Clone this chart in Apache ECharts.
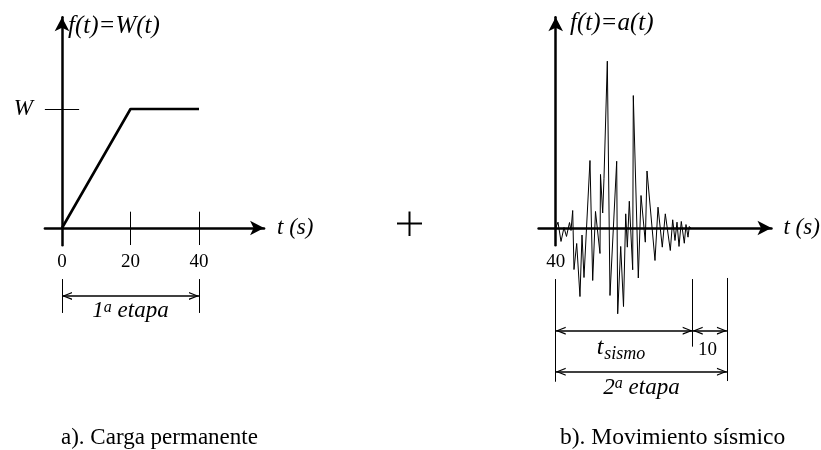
<!DOCTYPE html>
<html><head><meta charset="utf-8">
<script src="https://cdn.jsdelivr.net/npm/echarts@6/dist/echarts.min.js"></script>
<style>html,body{margin:0;padding:0;background:#fff}#c{width:821px;height:450px}</style>
</head><body><div id="c"></div>
<script>
// ---- data ----
const loadT = [0, 20, 40];
const loadW = [0, 1, 1];
const quakeT = [40.0, 40.67, 41.55, 42.42, 43.15, 44.03, 44.47, 44.96, 45.34, 46.13,
  47.09, 47.68, 48.26, 50.01, 50.80, 51.62, 52.93, 53.08, 53.72, 54.10,
  55.07, 55.85, 57.81, 58.10, 58.98, 59.80, 60.44, 60.91, 61.49, 62.48,
  62.66, 64.12, 64.91, 66.16, 66.66, 68.99, 69.87, 71.12, 72.00, 73.46,
  74.16, 74.83, 75.42, 76.00, 76.67, 77.55, 78.04, 78.63, 79.01, 79.42];
const quakeA = [0.00, 0.049, -0.113, 0.004, -0.071, 0.046, -0.021, 0.147, -0.349, -0.130,
  -0.576, -0.059, -0.416, 0.567, -0.441, 0.139, -0.214, 0.450, 0.126, 0.418,
  1.402, -0.567, 0.561, -0.721, -0.155, -0.660, 0.119, -0.161, 0.225, -0.351,
  1.113, -0.420, 0.273, -0.119, 0.479, -0.273, 0.175, -0.161, 0.119, -0.189,
  0.069, -0.105, 0.049, -0.155, 0.055, -0.128, 0.029, -0.077, 0.013, 0.0];
const loadTicks = [0, 20, 40];
const quakeTicks = [40];
const wLevel = [1];
const stage1 = [0, 40];
const tSismo = [40, 80];
const tExtra = [80, 90];
const stage2 = [40, 90];

// ---- layout (pixels per unit) ----
const PX = 3.425, PY = 119;
const XL = [-5, 59], XR = [35, 103];
const YMAIN = [-0.145, 1.77], YOVER = [-1.5, 1.77];
const LEFT0 = 62 - (0 - XL[0]) * PX;
const LEFT1 = 555.7 - (40 - XR[0]) * PX;
const TOP = 228 - YMAIN[1] * PY;
const SERIF = "'Liberation Serif','Times New Roman',serif";
const BLACK = '#000';

function grid(left, xr, yr) {
  return {left: left, top: TOP, width: (xr[1] - xr[0]) * PX, height: (yr[1] - yr[0]) * PY,
          outerBoundsMode: 'none', containLabel: false};
}
const zip = (a, b) => a.map((v, i) => [v, b[i]]);
const axLine = {show: true, symbol: ['none', 'arrow'], symbolSize: [11, 14], lineStyle: {color: BLACK, width: 2.5}};
const nameStyle = {fontFamily: SERIF, fontStyle: 'italic', fontSize: 23, color: BLACK, align: 'left', verticalAlign: 'middle'};
const digitStyle = {fontFamily: SERIF, fontSize: 19, color: BLACK};
const chev = 'path://M6,0 L12,14 L10,14 L6,4 L2,14 L0,14 Z';
const seg = (x0, y0, x1, y1) => [{coord: [x0, y0]}, {coord: [x1, y1]}];
const thin = {color: BLACK, width: 1, type: 'solid'};
const hidden = {show: false};
const richStyles = {
  n: {fontFamily: SERIF, fontStyle: 'italic', fontSize: 23, color: BLACK, textBorderWidth: 0},
  s: {fontFamily: SERIF, fontStyle: 'italic', fontSize: 16, color: BLACK, verticalAlign: 'top', textBorderWidth: 0},
  t: {fontFamily: SERIF, fontStyle: 'italic', fontSize: 24, color: BLACK, verticalAlign: 'top', textBorderWidth: 0},
  sub: {fontFamily: SERIF, fontStyle: 'italic', fontSize: 18, color: BLACK, verticalAlign: 'top', padding: [10, 0, 0, 1], textBorderWidth: 0},
  d: {fontFamily: SERIF, fontSize: 19, color: BLACK, textBorderWidth: 0}
};
const annoLabel = {show: true, position: 'inside', color: BLACK, textBorderWidth: 0, opacity: 1, rich: richStyles};

const option = {
  animation: false,
  backgroundColor: '#fff',
  grid: [grid(LEFT0, XL, YMAIN), grid(LEFT1, XR, YMAIN), grid(LEFT0, XL, YOVER), grid(LEFT1, XR, YOVER)],
  xAxis: [
    {type: 'value', gridIndex: 0, min: XL[0], max: XL[1], axisLine: Object.assign({onZero: true}, axLine),
     axisTick: hidden, splitLine: hidden,
     axisLabel: Object.assign({customValues: loadTicks, margin: 7}, digitStyle),
     name: 't (s)', nameLocation: 'end', nameGap: 13, nameTextStyle: nameStyle},
    {type: 'value', gridIndex: 1, min: XR[0], max: XR[1], axisLine: Object.assign({onZero: true}, axLine),
     axisTick: hidden, splitLine: hidden,
     axisLabel: Object.assign({customValues: quakeTicks, margin: 7}, digitStyle),
     name: 't (s)', nameLocation: 'end', nameGap: 12, nameTextStyle: nameStyle},
    {type: 'value', gridIndex: 2, min: XL[0], max: XL[1], show: false},
    {type: 'value', gridIndex: 3, min: XR[0], max: XR[1], show: false}
  ],
  yAxis: [
    {type: 'value', gridIndex: 0, min: YMAIN[0], max: YMAIN[1], axisLine: Object.assign({onZero: true}, axLine),
     axisTick: hidden, splitLine: hidden,
     axisLabel: {customValues: wLevel, formatter: () => 'W', margin: 12, fontFamily: SERIF, fontStyle: 'italic', fontSize: 23, color: BLACK}},
    {type: 'value', gridIndex: 1, min: YMAIN[0], max: YMAIN[1], offset: -(40 - XR[0]) * PX,
     axisLine: Object.assign({}, axLine, {onZero: false}),
     axisTick: hidden, splitLine: hidden, axisLabel: hidden},
    {type: 'value', gridIndex: 2, min: YOVER[0], max: YOVER[1], show: false},
    {type: 'value', gridIndex: 3, min: YOVER[0], max: YOVER[1], show: false}
  ],
  series: [
    {type: 'line', xAxisIndex: 0, yAxisIndex: 0, data: zip(loadT, loadW), symbol: 'none', clip: false,
     lineStyle: {color: BLACK, width: 2.6}, silent: true},
    {type: 'line', xAxisIndex: 1, yAxisIndex: 1, data: zip(quakeT, quakeA), symbol: 'none', clip: false,
     lineStyle: {color: BLACK, width: 1}, silent: true},
    {type: 'line', xAxisIndex: 2, yAxisIndex: 2, data: [], silent: true,
     markLine: {silent: true, symbol: ['none', 'none'], label: hidden, lineStyle: thin, emphasis: {disabled: true},
       data: [
         seg(loadTicks[1], 0.137, loadTicks[1], -0.143),
         seg(loadTicks[2], 0.137, loadTicks[2], -0.143),
         seg(-5, wLevel[0], 5, wLevel[0]),
         seg(stage1[0], -0.429, stage1[0], -0.714),
         seg(stage1[1], -0.429, stage1[1], -0.714)
       ]}},
    {type: 'line', xAxisIndex: 2, yAxisIndex: 2, data: [], silent: true,
     markLine: {silent: true, symbol: [chev, chev], symbolSize: [8, 10], symbolOffset: [[0, 5], [0, 5]],
       label: hidden, lineStyle: {color: BLACK, width: 1.6, type: 'solid'}, emphasis: {disabled: true},
       data: [seg(stage1[0], -0.571, stage1[1], -0.571)]}},
    {type: 'line', xAxisIndex: 3, yAxisIndex: 3, data: [], silent: true,
     markLine: {silent: true, symbol: ['none', 'none'], label: hidden, lineStyle: thin, emphasis: {disabled: true},
       data: [
         seg(stage2[0], -0.429, stage2[0], -1.292),
         seg(tSismo[1], -0.429, tSismo[1], -0.997),
         seg(stage2[1], -0.42, stage2[1], -1.286)
       ]}},
    {type: 'line', xAxisIndex: 3, yAxisIndex: 3, data: [], silent: true,
     markLine: {silent: true, symbol: [chev, chev], symbolSize: [8, 10], symbolOffset: [[0, 5], [0, 5]],
       label: hidden, lineStyle: {color: BLACK, width: 1.6, type: 'solid'}, emphasis: {disabled: true},
       data: [
         seg(tSismo[0], -0.863, tSismo[1], -0.863),
         seg(tExtra[0], -0.863, tExtra[1], -0.863),
         seg(stage2[0], -1.208, stage2[1], -1.208)
       ]}},
    {type: 'scatter', xAxisIndex: 2, yAxisIndex: 2, symbolSize: 1, silent: true,
     itemStyle: {color: 'transparent'},
     data: [{value: [(stage1[0] + stage1[1]) / 2, -0.70], name: '1'}],
     label: Object.assign({formatter: '{n|1}{s|a}{n| etapa}'}, annoLabel)},
    {type: 'scatter', xAxisIndex: 3, yAxisIndex: 3, symbolSize: 1, silent: true,
     itemStyle: {color: 'transparent'},
     data: [
       {value: [59.07, -1.02], name: 'ts', label: {formatter: '{t|t}{sub|sismo}'}},
       {value: [84.3, -1.025], name: '10', label: {formatter: '{d|10}'}},
       {value: [65.05, -1.34], name: '2', label: {formatter: '{n|2}{s|a}{n| etapa}'}}
     ],
     label: annoLabel}
  ],
  graphic: [
    {type: 'text', left: 68, top: 14, silent: true,
     style: {text: 'f(t)=W(t)', fontFamily: SERIF, fontStyle: 'italic', fontSize: 25, fill: BLACK}},
    {type: 'text', left: 570, top: 11, silent: true,
     style: {text: 'f(t)=a(t)', fontFamily: SERIF, fontStyle: 'italic', fontSize: 25, fill: BLACK}},
    {type: 'text', left: 61, top: 426, silent: true,
     style: {text: 'a). Carga permanente', fontFamily: SERIF, fontSize: 23, fill: BLACK}},
    {type: 'text', left: 560, top: 426, silent: true,
     style: {text: 'b). Movimiento sísmico', fontFamily: SERIF, fontSize: 23.5, fill: BLACK}},
    {type: 'line', silent: true, shape: {x1: 397, y1: 223.5, x2: 422, y2: 223.5}, style: {stroke: BLACK, lineWidth: 2}},
    {type: 'line', silent: true, shape: {x1: 409.5, y1: 211.5, x2: 409.5, y2: 236}, style: {stroke: BLACK, lineWidth: 2}}
  ]
};
const chart = echarts.init(document.getElementById('c'), null, {renderer: 'canvas'});
chart.setOption(option);
</script>
</body></html>
